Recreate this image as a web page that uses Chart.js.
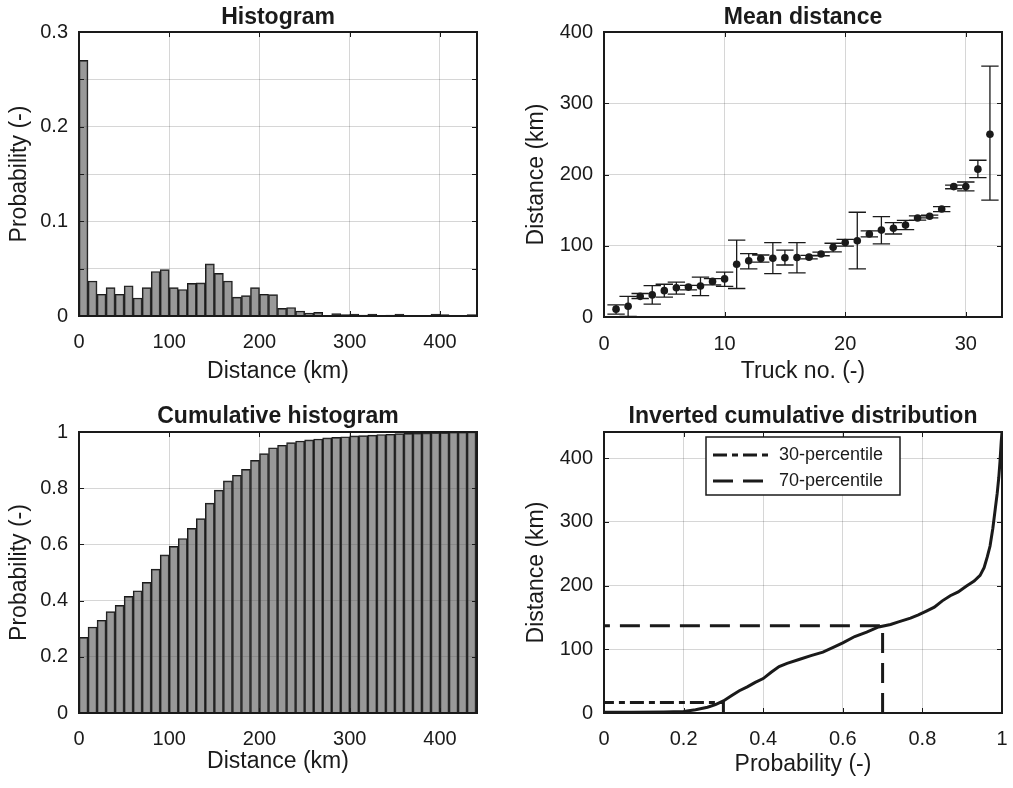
<!DOCTYPE html>
<html>
<head>
<meta charset="utf-8">
<title>Truck distances</title>
<script src="https://cdn.jsdelivr.net/npm/chart.js@4/dist/chart.umd.min.js"></script>
<style>
  html, body { margin: 0; padding: 0; background: #fff; }
  #figure { position: relative; width: 1013px; height: 788px; }
  #figure canvas { position: absolute; }
</style>
</head>
<body>
<div id="figure">
  <canvas id="hist" width="500" height="390" style="left:0;top:0"></canvas>
  <canvas id="mean" width="513" height="390" style="left:500px;top:0"></canvas>
  <canvas id="cumhist" width="500" height="398" style="left:0;top:390px"></canvas>
  <canvas id="invcdf" width="513" height="398" style="left:500px;top:390px"></canvas>
</div>
<script>
// --- data ---

// 10 km distance bins (centres)
const binCenters = [5, 15, 25, 35, 45, 55, 65, 75, 85, 95, 105, 115, 125, 135, 145, 155, 165, 175, 185, 195,
  205, 215, 225, 235, 245, 255, 265, 275, 285, 295, 305, 315, 325, 335, 345, 355, 365, 375, 385, 395,
  405, 415, 425, 435];
const histProb = [0.270, 0.037, 0.023, 0.030, 0.023, 0.032, 0.019, 0.030, 0.047, 0.049,
  0.030, 0.028, 0.0345, 0.035, 0.055, 0.045, 0.037, 0.020, 0.0215, 0.030,
  0.023, 0.0225, 0.008, 0.009, 0.0053, 0.0032, 0.0039, 0.0008, 0.0025, 0.0015,
  0.002, 0.001, 0.002, 0.0007, 0.001, 0.002, 0.0007, 0.0007, 0, 0.002,
  0.0014, 0, 0.0007, 0.0014];
const cumProb = [0.269, 0.306, 0.330, 0.361, 0.383, 0.415, 0.435, 0.465, 0.512, 0.563,
  0.593, 0.621, 0.657, 0.692, 0.747, 0.793, 0.826, 0.846, 0.867, 0.899,
  0.923, 0.944, 0.953, 0.962, 0.968, 0.972, 0.975, 0.979, 0.981, 0.983,
  0.986, 0.987, 0.989, 0.991, 0.992, 0.994, 0.995, 0.996, 0.997, 0.998,
  0.998, 0.999, 0.999, 1.0];

// mean distance per truck, with spread
const truckNo = [1, 2, 3, 4, 5, 6, 7, 8, 9, 10, 11, 12, 13, 14, 15, 16,
  17, 18, 19, 20, 21, 22, 23, 24, 25, 26, 27, 28, 29, 30, 31, 32];
const meanDist = [11, 15, 29, 31, 37, 41, 42, 43.5, 50, 53.5, 74, 79, 82, 82.5, 83, 83.5,
  84, 88.5, 98, 104.5, 107, 116.5, 122, 124.5, 129, 139, 141.5, 151.5, 183, 183, 207.5, 256.5];
const distLow = [4, 1, 26, 18, 28, 32, 38, 30, 45, 43, 40, 67.5, 77, 61, 73, 62,
  81.5, 86, 91.5, 99.5, 67.5, 112.5, 102.5, 116.5, 122.5, 136, 139, 148, 180, 177, 195.5, 164];
const distHigh = [17, 29, 33, 44, 46, 49, 44.5, 56, 54, 63, 108, 89, 87, 104.5, 94, 104.5,
  86.5, 91, 103.5, 109, 147, 121, 141, 132.5, 135.5, 142, 143, 155, 185, 189.5, 220, 352];

// inverted cumulative distribution
const invProb = [0, 0.07, 0.15, 0.2, 0.23, 0.26, 0.28, 0.3, 0.32, 0.34, 0.36, 0.38, 0.4, 0.42,
  0.44, 0.46, 0.49, 0.52, 0.55, 0.58, 0.6, 0.63, 0.66, 0.69, 0.72, 0.74, 0.77, 0.79, 0.81,
  0.83, 0.85, 0.87, 0.89, 0.91, 0.93, 0.945, 0.955, 0.963, 0.97, 0.977, 0.983, 0.988, 0.992,
  0.995, 0.998, 1.0];
const invDist = [1, 1, 1.5, 2.5, 5, 9, 13, 19, 27, 35, 41, 48, 54, 64,
  73, 78, 84, 90, 95.5, 104, 110, 120, 127, 135, 139, 143, 149, 154, 160,
  166, 176, 184, 190, 199, 207, 216, 228, 245, 262, 290, 320, 345, 370,
  395, 425, 441];
const percentileLabels = ['30-percentile', '70-percentile'];
const percentileProb = [0.3, 0.7];
const percentileDist = [16.5, 137];

// tick positions
const distTicks = [0, 100, 200, 300, 400];
const histTicks = [0, 0.05, 0.1, 0.15, 0.2, 0.25, 0.3];
const histLabels = [0, 0.1, 0.2, 0.3];
const probTicks = [0, 0.2, 0.4, 0.6, 0.8, 1];
const truckTicks = [0, 10, 20, 30];

// --- styling helpers ---
const FONT = "'Liberation Sans', Arial, Helvetica, sans-serif";
const INK = '#1a1a1a';
const GRID = 'rgba(0,0,0,0.16)';
const BAR_FILL = 'rgba(85,85,85,0.6)';

function axis(min, max, ticks, title, size, tickPad, titlePad, labelFn) {
  return {
    type: 'linear', min, max, offset: false,
    afterBuildTicks: s => { s.ticks = ticks.map(v => ({ value: v })); },
    afterFit: s => {
      if (s.isHorizontal()) s.height = size; else s.width = size;
      // the plot box is placed by layout padding, not by label overhang
      s.paddingLeft = s.paddingRight = s.paddingTop = s.paddingBottom = 0;
    },
    grid: { color: GRID, lineWidth: 1, drawTicks: false, offset: false },
    border: { display: false },
    ticks: {
      font: { family: FONT, size: 20 }, color: INK, padding: tickPad,
      autoSkip: false, maxRotation: 0,
      callback: labelFn || (v => String(+v.toFixed(3)))
    },
    title: { display: true, text: title, font: { family: FONT, size: 23 }, color: INK, padding: titlePad }
  };
}

function heading(text, top, bottom) {
  return {
    display: true, text, fullSize: false, color: INK,
    font: { family: FONT, size: 23, weight: 'bold', lineHeight: 1.2 },
    padding: { top, bottom }
  };
}

// box around the axes with inward tick marks, like the original
const frame = {
  id: 'frame',
  afterDraw(chart) {
    const { ctx, chartArea: a, scales } = chart;
    ctx.save();
    ctx.strokeStyle = INK;
    ctx.lineWidth = 1;
    ctx.beginPath();
    for (const t of scales.x.ticks) {
      const px = Math.round(scales.x.getPixelForValue(t.value)) + 0.5;
      ctx.moveTo(px, a.bottom); ctx.lineTo(px, a.bottom - 5);
      ctx.moveTo(px, a.top); ctx.lineTo(px, a.top + 5);
    }
    for (const t of scales.y.ticks) {
      const py = Math.round(scales.y.getPixelForValue(t.value)) + 0.5;
      ctx.moveTo(a.left, py); ctx.lineTo(a.left + 5, py);
      ctx.moveTo(a.right, py); ctx.lineTo(a.right - 5, py);
    }
    ctx.stroke();
    ctx.lineWidth = 2;
    ctx.strokeRect(a.left, a.top, a.right - a.left, a.bottom - a.top);
    ctx.restore();
  }
};

// boxed legend placed inside the plot area
const boxLegend = {
  id: 'boxLegend',
  afterDraw(chart, args, opts) {
    if (!opts.show) return;
    const { ctx, chartArea: a } = chart;
    const items = chart.data.datasets.filter(d => d.label);
    const x0 = a.left + opts.x, y0 = a.top + opts.y;
    ctx.save();
    ctx.fillStyle = '#fff';
    ctx.fillRect(x0, y0, opts.width, opts.height);
    ctx.strokeStyle = INK;
    ctx.lineWidth = 1.5;
    ctx.strokeRect(x0, y0, opts.width, opts.height);
    items.forEach((d, i) => {
      const y = y0 + opts.rowTop + i * opts.rowGap;
      ctx.setLineDash(d.borderDash || []);
      ctx.lineWidth = d.borderWidth;
      ctx.strokeStyle = d.borderColor;
      ctx.beginPath();
      ctx.moveTo(x0 + 7, y);
      ctx.lineTo(x0 + 65, y);
      ctx.stroke();
      ctx.setLineDash([]);
      ctx.fillStyle = INK;
      ctx.font = '18px ' + FONT;
      ctx.textBaseline = 'middle';
      ctx.fillText(d.label, x0 + 73, y);
    });
    ctx.restore();
  }
};

const base = {
  responsive: false,
  animation: false,
  events: [],
  plugins: { legend: { display: false }, tooltip: { enabled: false }, boxLegend: { show: false } }
};

// --- Histogram ---
new Chart(document.getElementById('hist'), {
  type: 'bar',
  data: {
    datasets: [{
      data: binCenters.map((x, i) => ({ x, y: histProb[i] })),
      backgroundColor: BAR_FILL, borderColor: INK, borderWidth: 1,
      barPercentage: 1, categoryPercentage: 1
    }]
  },
  options: {
    ...base,
    layout: { padding: { left: 0, right: 23, top: 0, bottom: 0 } },
    plugins: { ...base.plugins, title: heading('Histogram', 3.7, 0.7) },
    scales: {
      x: axis(0, 441, distTicks, 'Distance (km)', 74, 14, { bottom: 4.2 }),
      y: axis(0, 0.3, histTicks, 'Probability (-)', 79, 11, { top: 6.2 },
        v => histLabels.some(l => Math.abs(l - v) < 1e-9) ? String(+v.toFixed(2)) : '')
    }
  },
  plugins: [frame, boxLegend]
});

// --- Mean distance with error bars ---
const capHalf = 0.72;
const errorBars = [];
truckNo.forEach((t, i) => {
  errorBars.push(
    { x: t, y: distLow[i] }, { x: t, y: distHigh[i] }, { x: t, y: null },
    { x: t - capHalf, y: distLow[i] }, { x: t + capHalf, y: distLow[i] }, { x: t, y: null },
    { x: t - capHalf, y: distHigh[i] }, { x: t + capHalf, y: distHigh[i] }, { x: t, y: null }
  );
});

new Chart(document.getElementById('mean'), {
  type: 'scatter',
  data: {
    datasets: [
      {
        data: truckNo.map((t, i) => ({ x: t, y: meanDist[i] })),
        pointRadius: 3.8, pointBackgroundColor: INK, pointBorderWidth: 0, showLine: false
      },
      {
        data: errorBars, showLine: true, spanGaps: false,
        borderColor: INK, borderWidth: 1.3, pointRadius: 0
      }
    ]
  },
  options: {
    ...base,
    layout: { padding: { left: 0, right: 11, top: 0, bottom: 0 } },
    plugins: { ...base.plugins, title: heading('Mean distance', 3.7, 0.7) },
    scales: {
      x: axis(0, 33, truckTicks, 'Truck no. (-)', 73, 15, { bottom: 4.2 }),
      y: axis(0, 400, distTicks, 'Distance (km)', 104, 11, { top: 22.4 })
    }
  },
  plugins: [frame, boxLegend]
});

// --- Cumulative histogram ---
new Chart(document.getElementById('cumhist'), {
  type: 'bar',
  data: {
    datasets: [{
      data: binCenters.map((x, i) => ({ x, y: cumProb[i] })),
      backgroundColor: BAR_FILL, borderColor: INK, borderWidth: 1,
      barPercentage: 1, categoryPercentage: 1
    }]
  },
  options: {
    ...base,
    layout: { padding: { left: 0, right: 23, top: 0, bottom: 0 } },
    plugins: { ...base.plugins, title: heading('Cumulative histogram', 13.2, 1.2) },
    scales: {
      x: axis(0, 441, distTicks, 'Distance (km)', 75, 14, { bottom: 12.2 }),
      y: axis(0, 1, probTicks, 'Probability (-)', 79, 11, { top: 6.2 })
    }
  },
  plugins: [frame, boxLegend]
});

// --- Inverted cumulative distribution ---
const pctDash = [[14, 5, 6, 5], [20, 10]];
new Chart(document.getElementById('invcdf'), {
  type: 'scatter',
  data: {
    datasets: [
      {
        data: invProb.map((p, i) => ({ x: p, y: invDist[i] })),
        showLine: true, borderColor: INK, borderWidth: 3, pointRadius: 0
      },
      ...percentileProb.map((p, i) => ({
        label: percentileLabels[i],
        data: [{ x: p, y: 0 }, { x: p, y: percentileDist[i] }, { x: 0, y: percentileDist[i] }],
        showLine: true, borderColor: INK, borderWidth: 3, borderDash: pctDash[i], pointRadius: 0
      }))
    ]
  },
  options: {
    ...base,
    layout: { padding: { left: 0, right: 11, top: 0, bottom: 0 } },
    plugins: {
      ...base.plugins,
      title: heading('Inverted cumulative distribution', 13.2, 1.2),
      boxLegend: { show: true, x: 102, y: 5, width: 194, height: 58, rowTop: 18, rowGap: 26 }
    },
    scales: {
      x: axis(0, 1, probTicks, 'Probability (-)', 75, 14, { bottom: 10 }),
      y: axis(0, 441, distTicks, 'Distance (km)', 104, 11, { top: 22.9 })
    }
  },
  plugins: [frame, boxLegend]
});
</script>
</body>
</html>
